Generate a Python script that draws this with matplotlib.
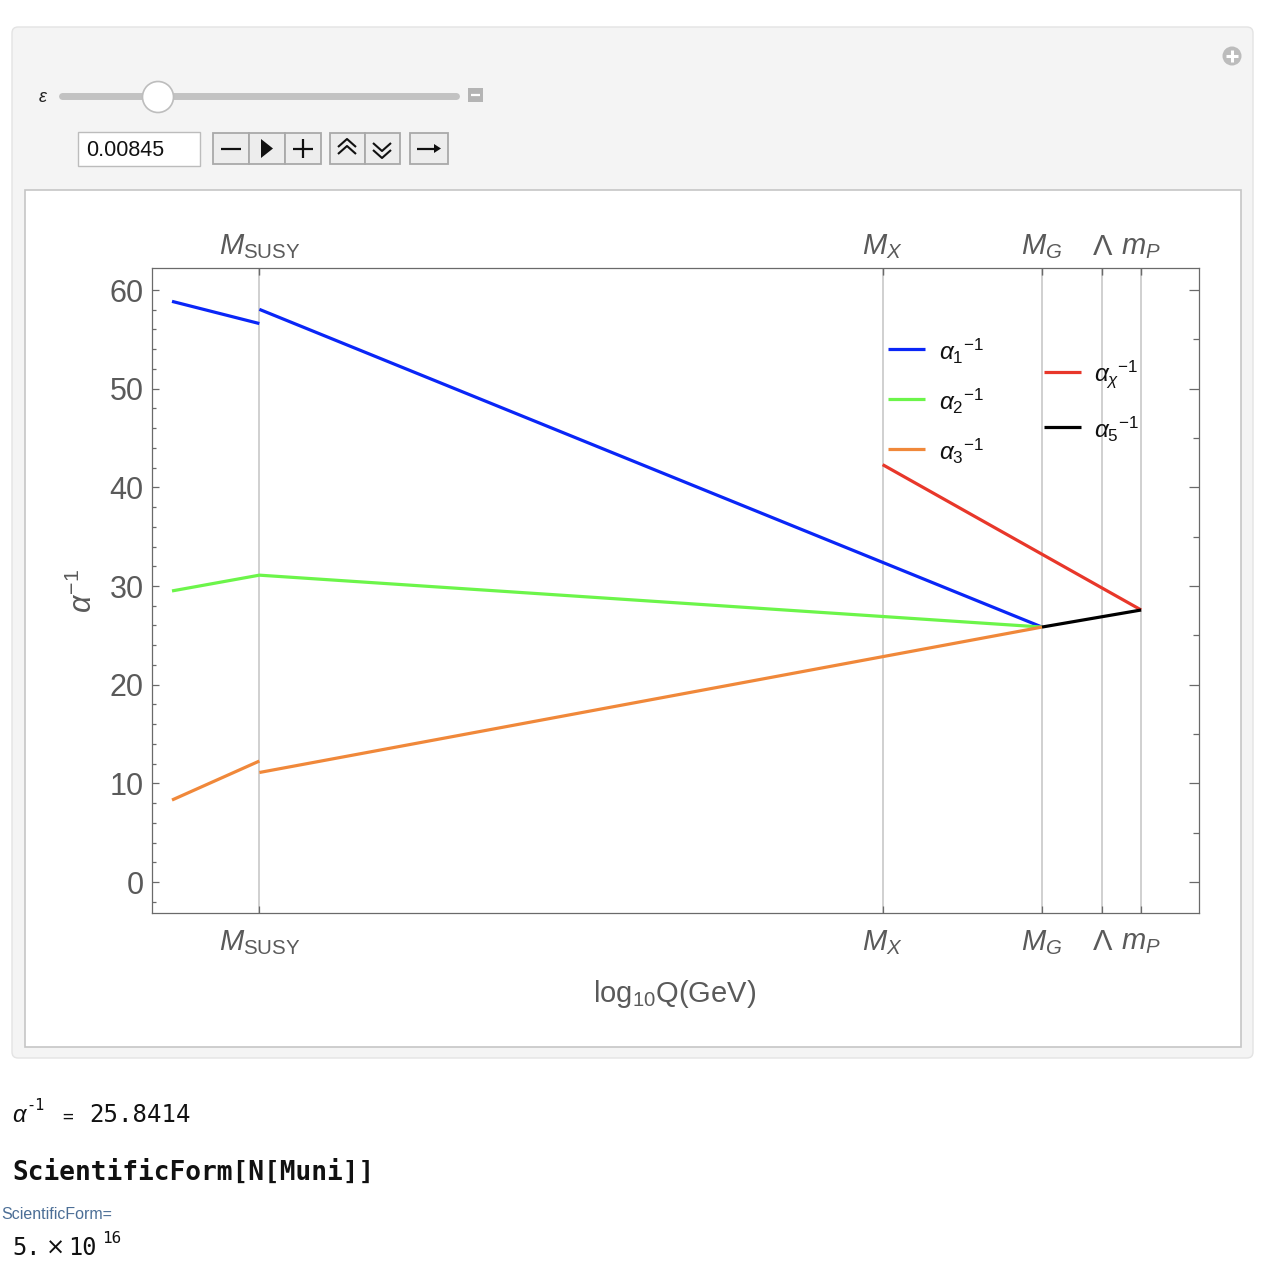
import matplotlib
matplotlib.use("Agg")
import matplotlib.pyplot as plt
from matplotlib.patches import FancyBboxPatch, Rectangle, Circle, Polygon
from matplotlib.lines import Line2D
from matplotlib.transforms import Affine2D

plt.rcParams['font.family'] = ['Liberation Sans', 'DejaVu Sans']
plt.rcParams['mathtext.fontset'] = 'custom'
plt.rcParams['mathtext.rm'] = 'Liberation Sans'
plt.rcParams['mathtext.it'] = 'Liberation Sans:italic'
plt.rcParams['mathtext.bf'] = 'Liberation Sans:bold'
plt.rcParams['mathtext.sf'] = 'Liberation Sans'

# ---------------- data (log10 Q in GeV, inverse couplings) ----------------
scale_names = [r'$M_{\mathrm{SUSY}}$', r'$M_X$', r'$M_G$', r'$\Lambda$', r'$m_P$']
scale_pos = [3.44, 14.0, 16.7, 17.72, 18.38]

a1_low_x = [1.96, 3.44]
a1_low_y = [58.85, 56.6]
a1_high_x = [3.44, 16.7]
a1_high_y = [58.04, 25.84]
a2_x = [1.96, 3.44, 16.7]
a2_y = [29.5, 31.1, 25.84]
a3_low_x = [1.96, 3.44]
a3_low_y = [8.31, 12.26]
a3_high_x = [3.44, 16.7]
a3_high_y = [11.1, 25.84]
aX_x = [14.0, 18.38]
aX_y = [42.3, 27.57]
a5_x = [16.7, 18.38]
a5_y = [25.84, 27.57]

y_ticks = [0, 10, 20, 30, 40, 50, 60]
eps_value = "0.00845"
alpha_inv_text = "25.8414"

c_blue = '#0a26f7'
c_green = '#6cf54a'
c_orange = '#f0883a'
c_red = '#e8372a'
c_black = '#000000'

W, H = 1278, 1268
fig = plt.figure(figsize=(W / 100, H / 100), dpi=100)
fig.patch.set_facecolor('white')
T = Affine2D().scale(1 / W, -1 / H).translate(0, 1) + fig.transFigure

def rect(x0, y0, x1, y1, fc, ec, lw=1.0, z=-5, r=0):
    if r > 0:
        p = FancyBboxPatch((x0, y0), x1 - x0, y1 - y0, boxstyle=f"round,pad=0,rounding_size={r}",
                           fc=fc, ec=ec, lw=lw, transform=T, zorder=z)
    else:
        p = Rectangle((x0, y0), x1 - x0, y1 - y0, fc=fc, ec=ec, lw=lw, transform=T, zorder=z)
    fig.add_artist(p)
    return p

def line(xs, ys, color, lw, z=-3, cap='butt'):
    fig.add_artist(Line2D(xs, ys, color=color, lw=lw, transform=T, zorder=z, solid_capstyle=cap))

def text(x, y, s, z=-3, **kw):
    t = fig.text(0, 0, s, transform=T, zorder=z, **kw)
    t.set_position((x, y))
    return t

# ---------------- Manipulate panel ----------------
rect(12, 27, 1253, 1058, '#f4f4f4', '#e3e3e3', lw=1.0, z=-10, r=6)
fig.add_artist(Circle((1232, 56), 9.5, fc='#bcbcbc', ec='none', transform=T, zorder=-4))
line([1226, 1238], [56, 56], 'white', 2.2)
line([1232, 1232], [50, 62], 'white', 2.2)

text(38, 97, r'$\epsilon$', fontsize=13, va='center', color='#222222')
line([62, 456], [96, 96], '#c2c2c2', 5.0, cap='round')
fig.add_artist(Circle((158, 97), 15.5, fc='white', ec='#bdbdbd', lw=1.2, transform=T, zorder=-2))
rect(468, 88, 483, 102, '#b4b4b4', 'none', z=-3)
line([471, 480], [95, 95], 'white', 1.6, z=-2)

# number field
rect(78, 132, 200, 166, 'white', '#bcbcbc', lw=1.0, z=-4)
text(86, 151, eps_value, fontsize=15.5, va='center', color='#111111')

# buttons
for (a, b) in [(213, 249), (249, 285), (285, 321), (330, 365), (365, 400), (410, 448)]:
    rect(a, 133, b, 164, '#ededed', '#a9a9a9', lw=1.3, z=-4)
line([221, 241], [148.5, 148.5], '#111111', 1.6, z=-2)
fig.add_artist(Polygon([[261, 139], [261, 158], [273, 148.5]], closed=True, fc='#111111', ec='none',
                       transform=T, zorder=-2))
line([293, 313], [148.5, 148.5], '#111111', 1.6, z=-2)
line([303, 303], [139, 158], '#111111', 1.6, z=-2)
for dy in (0, 7):
    line([338, 347, 356], [147 + dy, 139 + dy, 147 + dy], '#111111', 1.5, z=-2)
for dy in (0, 7):
    line([373, 382, 391], [143 + dy, 151 + dy, 143 + dy], '#111111', 1.5, z=-2)
line([417, 437], [148.5, 148.5], '#111111', 1.6, z=-2)
fig.add_artist(Polygon([[434, 144], [441, 148.5], [434, 153]], closed=True, fc='#111111', ec='none',
                       transform=T, zorder=-2))

# white plot area
rect(25, 190, 1241, 1047, 'white', '#c6c6c6', lw=1.2, z=-4)

# ---------------- the plot ----------------
L, R, TOP, BOT = 152, 1199, 268, 913
ax = fig.add_axes([L / W, 1 - BOT / H, (R - L) / W, (BOT - TOP) / H])
ax.set_zorder(1)
ax.set_facecolor('none')
ax.set_xlim(1.621, 19.36)
ax.set_ylim(-3.14, 62.23)

for sp in ax.spines.values():
    sp.set_color('#6a6a6a')
    sp.set_linewidth(0.9)

for xp in scale_pos:
    ax.axvline(xp, color='#c8c8c8', lw=1.2, zorder=1)

lw = 2.3
ax.plot(a1_low_x, a1_low_y, color=c_blue, lw=lw, zorder=3, solid_capstyle='butt')
ax.plot(a1_high_x, a1_high_y, color=c_blue, lw=lw, zorder=3, solid_capstyle='butt')
ax.plot(a2_x, a2_y, color=c_green, lw=lw, zorder=3, solid_capstyle='butt')
ax.plot(a3_low_x, a3_low_y, color=c_orange, lw=lw, zorder=3, solid_capstyle='butt')
ax.plot(a3_high_x, a3_high_y, color=c_orange, lw=lw, zorder=3, solid_capstyle='butt')
ax.plot(aX_x, aX_y, color=c_red, lw=lw, zorder=3, solid_capstyle='butt')
ax.plot(a5_x, a5_y, color=c_black, lw=lw, zorder=4, solid_capstyle='butt')

ax.set_xticks(scale_pos)
ax.set_xticklabels(scale_names)
ax.tick_params(axis='x', which='major', direction='in', length=5, width=0.9, color='#6a6a6a',
               top=True, labeltop=False, labelsize=21, labelcolor='#5a5a5a', pad=11)

secx = ax.secondary_xaxis('top')
secx.set_xticks(scale_pos)
secx.set_xticklabels(scale_names)
secx.tick_params(axis='x', direction='in', length=5, width=0.9, color='#6a6a6a',
                 labelsize=21, labelcolor='#5a5a5a', pad=5)
secx.spines['top'].set_visible(False)

ax.set_yticks(y_ticks)
ax.set_yticks(range(-2, 62, 2), minor=True)
ax.tick_params(axis='y', which='major', direction='in', length=5, width=0.9, color='#6a6a6a',
               labelsize=22, labelcolor='#5a5a5a', pad=6, right=False)
ax.tick_params(axis='y', which='minor', direction='in', length=3, width=0.9, color='#6a6a6a', right=False)

ax2 = ax.twinx()
ax2.set_ylim(ax.get_ylim())
ax2.set_yticks(y_ticks)
ax2.set_yticks(range(5, 60, 10), minor=True)
ax2.tick_params(axis='y', which='major', direction='in', length=7, width=0.9, color='#6a6a6a', labelright=False)
ax2.tick_params(axis='y', which='minor', direction='in', length=4.5, width=0.9, color='#6a6a6a', labelright=False)
for sp in ax2.spines.values():
    sp.set_visible(False)

ax.set_xlabel(r'$\mathrm{log}_{10}\mathrm{Q(GeV)}$', fontsize=21, color='#5a5a5a')
ax.xaxis.set_label_coords(0.4995, -0.126)
ax.xaxis.label.set_va('center')
ax.set_ylabel(r'$\alpha^{-1}$', fontsize=22, color='#5a5a5a')
ax.yaxis.set_label_coords(-0.066, 0.5)
ax.yaxis.label.set_va('center')

# legends (drawn in pixel coordinates)
leg1 = [(c_blue, r'$\alpha_1{}^{-1}$', 349), (c_green, r'$\alpha_2{}^{-1}$', 399), (c_orange, r'$\alpha_3{}^{-1}$', 449)]
for c, s, y in leg1:
    line([888, 925], [y, y], c, 2.3, z=5)
    text(939, y + 2, s, z=5, fontsize=17.5, va='center', color='#111111')
leg2 = [(c_red, r'$\alpha_\chi{}^{-1}$', 372), (c_black, r'$\alpha_5{}^{-1}$', 427)]
for c, s, y in leg2:
    line([1044, 1081], [y, y], c, 2.3, z=5)
    text(1094, y + 2, s, z=5, fontsize=17.5, va='center', color='#111111')

# ---------------- output cells below ----------------
text(12, 1122, r'$\alpha$', fontsize=17, va='baseline', color='#111111')
text(26, 1110, '-1', fontsize=11, va='baseline', color='#111111', family='DejaVu Sans Mono')
text(62, 1122, '=', fontsize=13, va='baseline', color='#111111', family='DejaVu Sans Mono')
text(89, 1122, alpha_inv_text, fontsize=17.3, va='baseline', color='#111111', family='DejaVu Sans Mono')

text(12, 1180, 'ScientificForm[N[Muni]]', fontsize=18.8, va='baseline', color='#111111',
     family='DejaVu Sans Mono', weight='bold')

text(1, 1219, 'ScientificForm=', fontsize=11.5, va='baseline', ha='left', color='#4b6e96')

text(12, 1255, '5.', fontsize=17, va='baseline', color='#111111', family='DejaVu Sans Mono')
text(46, 1255, '\u00d7', fontsize=16.5, va='baseline', color='#111111', family='DejaVu Sans')
text(68, 1255, '10', fontsize=17, va='baseline', color='#111111', family='DejaVu Sans Mono')
text(102, 1243, '16', fontsize=11.5, va='baseline', color='#111111', family='DejaVu Sans Mono')

fig.savefig('out.png', dpi=100)
